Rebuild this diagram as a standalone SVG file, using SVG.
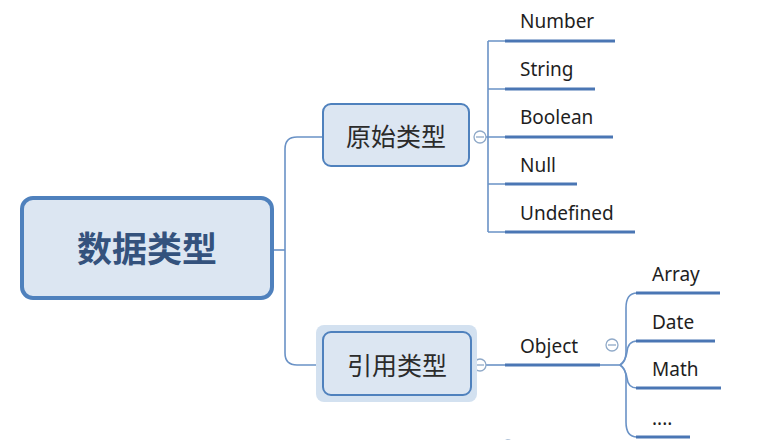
<svg xmlns="http://www.w3.org/2000/svg" width="765" height="440" viewBox="0 0 765 440">
<style>
.conn{fill:none;stroke:#6a92c6;stroke-width:1.6}
.ul{fill:none;stroke:#4a76b4;stroke-width:3.2}
.col{fill:#fff;stroke:#8fa9c8;stroke-width:1.3}
.colm{stroke:#8fa9c8;stroke-width:1.3}
.lbl{font-family:"Noto Sans","Liberation Sans",sans-serif;font-size:19px;fill:#1e1e1e}
.cn{font-family:"Noto Sans CJK SC","Noto Sans",sans-serif;font-size:25px;fill:#2b2b2b;text-anchor:middle}
.box{fill:#dce6f2;stroke:#4f81bd;stroke-width:2}
</style>
<rect width="765" height="440" fill="#ffffff"/>
<g id="connectors">
<path class="conn" d="M272,250 H285"/>
<path class="conn" d="M323,137 H297 Q285,137 285,149 V353 Q285,365 297,365 H323"/>
<path class="conn" d="M474,137 H488"/>
<path class="conn" d="M488,41 V232"/>
<path class="conn" d="M488,41 H505 M488,89 H505 M488,137 H505 M488,184 H505 M488,232 H505"/>
<path class="conn" d="M474,365 H505"/>
<path class="conn" d="M600,365 H620"/>
<path class="conn" d="M620,365 Q626,362 626,352 V308 Q626,293 637,293"/>
<path class="conn" d="M620,365 Q626,360 627,352 Q628,341 637,341"/>
<path class="conn" d="M620,365 Q626,370 627,378 Q628,388 637,388"/>
<path class="conn" d="M620,365 Q626,368 626,378 V422 Q626,437 637,437"/>
<circle class="col" cx="480" cy="137" r="6"/>
<line class="colm" x1="476" y1="137" x2="484" y2="137"/>
<circle class="col" cx="480" cy="365" r="6"/>
<line class="colm" x1="476" y1="365" x2="484" y2="365"/>
<circle class="col" cx="612" cy="345" r="6"/>
<line class="colm" x1="608" y1="345" x2="616" y2="345"/>
<circle class="col" cx="508" cy="446" r="6"/>
</g>
<g id="root">
<rect x="22" y="198" width="250" height="100" rx="11" fill="#dce6f2" stroke="#4f81bd" stroke-width="4"/>
<text x="147" y="262" font-family="Noto Sans CJK SC,sans-serif" font-size="35" font-weight="bold" fill="#34527d" text-anchor="middle">数据类型</text>
</g>
<g id="primitive">
<rect class="box" x="323" y="104" width="146" height="62" rx="8"/>
<text class="cn" x="396" y="146">原始类型</text>
</g>
<g id="reference">
<rect x="316" y="325" width="161" height="77" rx="8" fill="#d3e1f0"/>
<rect class="box" x="323" y="332" width="148" height="63" rx="8" fill="#c9dbef"/>
<text class="cn" x="397" y="375">引用类型</text>
</g>
<g id="number"><path class="ul" d="M505,41 H615"/><text class="lbl" x="520" y="28">Number</text></g>
<g id="string"><path class="ul" d="M505,89 H595"/><text class="lbl" x="520" y="76">String</text></g>
<g id="boolean"><path class="ul" d="M505,137 H613"/><text class="lbl" x="520" y="124">Boolean</text></g>
<g id="null"><path class="ul" d="M505,184 H577"/><text class="lbl" x="520" y="172">Null</text></g>
<g id="undefined"><path class="ul" d="M505,232 H635"/><text class="lbl" x="520" y="220">Undefined</text></g>
<g id="object"><path class="ul" d="M505,365 H600"/><text class="lbl" x="520" y="353">Object</text></g>
<g id="array"><path class="ul" d="M636,293 H720"/><text class="lbl" x="652" y="281">Array</text></g>
<g id="date"><path class="ul" d="M636,341 H715"/><text class="lbl" x="652" y="329">Date</text></g>
<g id="math"><path class="ul" d="M636,388 H721"/><text class="lbl" x="652" y="376">Math</text></g>
<g id="more"><path class="ul" d="M636,437 H690"/><text class="lbl" x="652" y="425">....</text></g>
</svg>
